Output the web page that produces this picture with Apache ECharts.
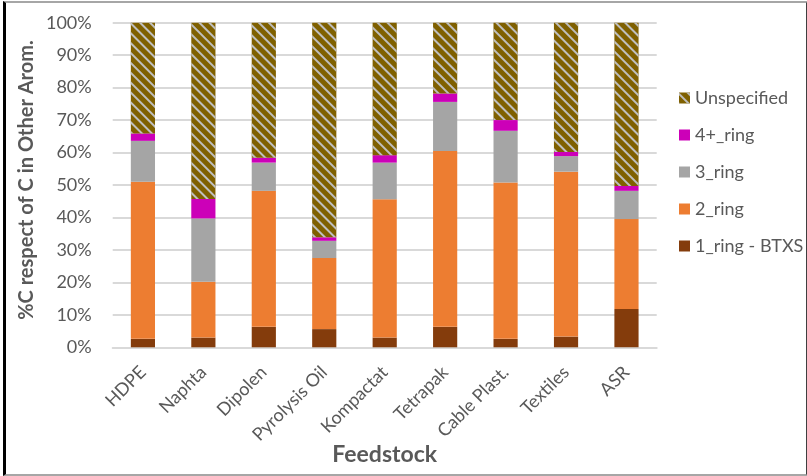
<!DOCTYPE html>
<html>
<head>
<meta charset="utf-8">
<script src="https://cdn.jsdelivr.net/npm/echarts@6/dist/echarts.min.js"></script>
<style>
html,body{margin:0;padding:0;background:#fff;}
#wrap{position:relative;width:807px;height:476px;overflow:hidden;}
#chart{position:absolute;left:0;top:0;width:807px;height:476px;}
#frame{position:absolute;left:3px;top:1px;width:800px;height:471px;border-left:3px solid #000;border-top:2px solid #A6A6A6;border-right:2px solid #3F3F3F;border-bottom:2px solid #A6A6A6;pointer-events:none;}
</style>
</head>
<body>
<div id="wrap"><div id="chart"></div><div id="frame"></div></div>
<script>
const categories = ['HDPE','Naphta','Dipolen','Pyrolysis Oil','Kompactat','Tetrapak','Cable Plast.','Textiles','ASR'];
const ring1 = [2.6, 3.0, 6.3, 5.6, 3.0, 6.3, 2.6, 3.3, 11.8];
const ring2 = [48.4, 17.2, 41.9, 21.9, 42.6, 54.2, 48.2, 50.8, 27.7];
const ring3 = [12.6, 19.5, 8.7, 5.3, 11.3, 15.1, 15.9, 4.8, 8.7];
const ring4 = [2.3, 6.0, 1.5, 1.1, 2.3, 2.6, 3.3, 1.3, 1.5];
const unspecified = categories.map((c, i) => +(100 - ring1[i] - ring2[i] - ring3[i] - ring4[i]).toFixed(1));
const yTicks = [0, 10, 20, 30, 40, 50, 60, 70, 80, 90, 100];

const font = 'Lato, "Open Sans", sans-serif';
const txt = '#595959';

const chart = echarts.init(document.getElementById('chart'), null, {renderer: 'canvas'});
const barW = '40%';
function s(name, data, color, extra) {
  return Object.assign({
    name, type: 'bar', stack: 'total', data, barWidth: barW,
    itemStyle: {color},
    emphasis: {disabled: true}
  }, extra || {});
}
chart.setOption({
  animation: false,
  backgroundColor: '#fff',
  grid: {left: 112.7, right: 150.3, top: 22.7, bottom: 128.7, containLabel: false, outerBoundsMode: 'none'},
  legend: {
    orient: 'vertical', left: 674, top: 83,
    itemWidth: 11, itemHeight: 11, itemGap: 17,
    icon: 'rect',
    textStyle: {fontFamily: font, fontSize: 18, color: txt, lineHeight: 20},
    data: ['Unspecified', '4+_ring', '3_ring', '2_ring', '1_ring - BTXS']
  },
  xAxis: {
    type: 'category', data: categories,
    axisLine: {lineStyle: {color: '#D9D9D9', width: 2}},
    axisTick: {show: false},
    axisLabel: {rotate: 45, fontFamily: font, fontSize: 18, color: txt, margin: 22, interval: 0},
    name: 'Feedstock', nameLocation: 'middle', nameGap: 96, nameMoveOverlap: false,
    nameTextStyle: {fontFamily: font, fontSize: 23, fontWeight: 'bold', color: txt}
  },
  yAxis: {
    type: 'value', min: 0, max: 100, interval: 10,
    axisLine: {show: false}, axisTick: {show: false},
    splitLine: {lineStyle: {color: '#D9D9D9', width: 2}},
    axisLabel: {
      fontFamily: font, fontSize: 18, color: txt, margin: 21,
      formatter: v => yTicks.includes(v) ? v + '%' : ''
    },
    name: '%C respect of C in Other Arom.', nameLocation: 'middle', nameGap: 76, nameMoveOverlap: false,
    nameTextStyle: {fontFamily: font, fontSize: 20, fontWeight: 'bold', color: txt, padding: [0, 0, 0, 10]}
  },
  series: [
    s('1_ring - BTXS', ring1, '#843C0C'),
    s('2_ring', ring2, '#ED7D31'),
    s('3_ring', ring3, '#A5A5A5'),
    s('4+_ring', ring4, '#CC00B8'),
    s('Unspecified', unspecified, '#7F6000', {
      itemStyle: {
        color: '#7F6000',
        decal: {
          symbol: 'rect', symbolSize: 1,
          color: '#BFBFBF', backgroundColor: null,
          dashArrayX: [1, 0], dashArrayY: [2, 4.5],
          rotation: Math.PI / 4
        }
      }
    })
  ]
});
</script>
</body>
</html>
